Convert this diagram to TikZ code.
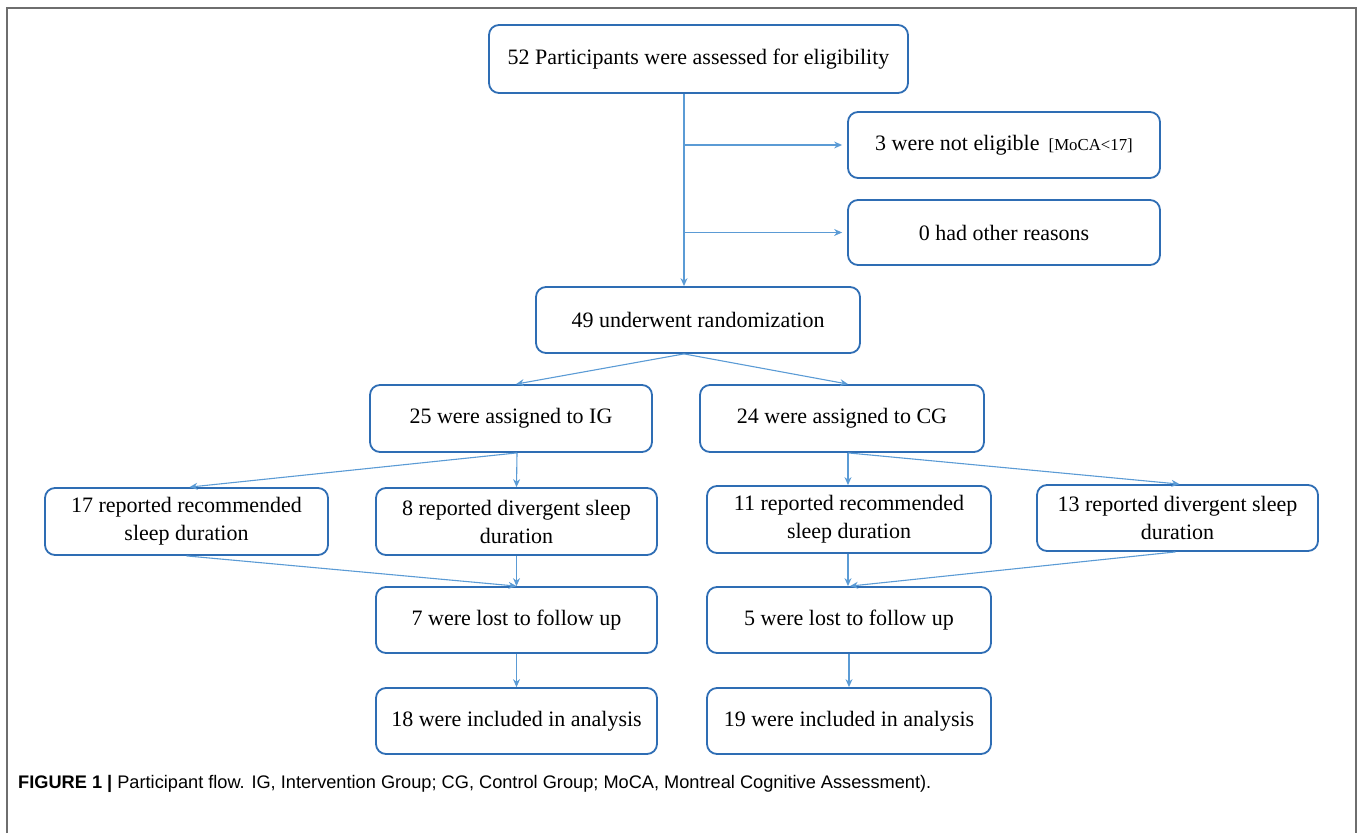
\documentclass[tikz,border=0pt]{standalone}
\usepackage{fontspec}
\setmainfont{Liberation Serif}
\newfontfamily\capfont{Liberation Sans}
\usetikzlibrary{arrows.meta,calc}
\definecolor{boxblue}{HTML}{2E6DB4}
\definecolor{arrblue}{HTML}{5B9BD5}
\definecolor{framegray}{HTML}{6E6E6E}
\begin{document}
\begin{tikzpicture}[x=1pt,y=-1pt,
  box/.style={draw=boxblue, line width=1.8pt, rounded corners=10pt, align=center,
    inner sep=2pt, font=\fontsize{22}{28}\selectfont, text=black},
  arr/.style={draw=arrblue, line width=1.1pt, -{Stealth[length=8pt,width=7pt]}}]
\useasboundingbox (0,0) rectangle (1357,833);
% frame
\draw[framegray, line width=1.6pt] (7,833) coordinate (fbl) -- (7,8) coordinate (ftl) -- (1356,8) coordinate (ftr) -- (1356,833) coordinate (fbr);
% boxes
\node[box, minimum width=419pt, minimum height=68pt] (top) at (698.5,59) {52 Participants were assessed for eligibility};
\node[box, minimum width=312pt, minimum height=66pt] (ne) at (1004,145) {3 were not eligible \,{\fontsize{16.8}{18}\selectfont[MoCA<17]}};
\node[box, minimum width=312pt, minimum height=65pt] (oth) at (1004,232.5) {0 had other reasons};
\node[box, minimum width=324pt, minimum height=66pt] (rand) at (698,320) {49 underwent randomization};
\node[box, minimum width=282pt, minimum height=67pt] (ig) at (511,418.5) {25 were assigned to IG};
\node[box, minimum width=284pt, minimum height=67pt] (cg) at (842,418.5) {24 were assigned to CG};
\node[box, minimum width=283pt, minimum height=67pt] (r17) at (186.5,521.5) {17 reported recommended\\sleep duration};
\node[box, minimum width=281pt, minimum height=67pt] (d8) at (516.5,521.5) {8 reported divergent sleep\\duration};
\node[box, minimum width=284pt, minimum height=67pt] (r11) at (849,519.5) {11 reported recommended\\sleep duration};
\node[box, minimum width=281pt, minimum height=66pt] (d13) at (1177.5,518) {13 reported divergent sleep\\duration};
\node[box, minimum width=281pt, minimum height=66pt] (l7) at (516.5,620) {7 were lost to follow up};
\node[box, minimum width=284pt, minimum height=66pt] (l5) at (849,620) {5 were lost to follow up};
\node[box, minimum width=281pt, minimum height=66pt] (i18) at (516.5,721) {18 were included in analysis};
\node[box, minimum width=284pt, minimum height=66pt] (i19) at (849,721) {19 were included in analysis};
% connectors
\coordinate (tx) at (684,0);
\draw[arr] (top.south -| tx) -- (rand.north -| tx);
\draw[arr, shorten >=5pt] (ne.west -| tx) -- (ne.west);
\draw[arr, shorten >=5pt] (oth.west -| tx) -- (oth.west);
\draw[arr] (rand.south -| tx) -- ($(ig.north)+(5,0)$);
\draw[arr] (rand.south -| tx) -- ($(cg.north)+(6,0)$);
\draw[arr] ($(ig.south)+(6,0)$) -- ($(r17.north)+(3,0)$);
\draw[arr] ($(ig.south)+(6,0)$) -- (d8.north);
\draw[arr] ($(cg.south)+(6,0)$) -- ($(r11.north)+(-1,0)$);
\draw[arr] ($(cg.south)+(6,0)$) -- ($(d13.north)+(2,0)$);
\draw[arr] (r17.south) -- (l7.north);
\draw[arr] (d8.south) -- (l7.north);
\draw[arr] ($(r11.south)+(-1,0)$) -- ($(l5.north)+(-1,0)$);
\draw[arr] ($(d13.south)+(-2,0)$) -- ($(l5.north)+(1,0)$);
\draw[arr] (l7.south) -- (i18.north);
\draw[arr] (l5.south) -- (i19.north);
% caption
\node[anchor=base west, inner sep=0pt, font=\capfont\fontsize{18.2}{21}\selectfont] (cap) at (18,788)
  {\textbf{FIGURE 1 |} Participant flow. IG, Intervention Group; CG, Control Group; MoCA, Montreal Cognitive Assessment).};
\end{tikzpicture}
\end{document}
